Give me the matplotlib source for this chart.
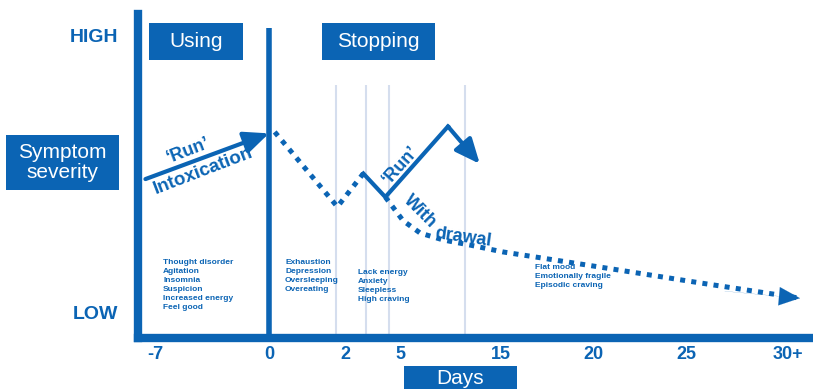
import numpy as np
import matplotlib
matplotlib.use('Agg')
import matplotlib.pyplot as plt
from matplotlib import transforms
from matplotlib.patches import Rectangle, FancyArrowPatch

# x axis: days (non-linear spacing), y axis: severity 0 (LOW) .. 10 (HIGH)
day_ticks = [-7, 0, 2, 5, 15, 20, 25, 30]
day_labels = ['-7', '0', '2', '5', '15', '20', '25', '30+']
level_ticks = [0, 10]
level_labels = ['LOW', 'HIGH']

stop_day = 0
marker_days = [1.75, 3.15, 4.4, 11.45]

# curves (day, severity)
intox_days = [-7.6, 0.0]
intox_sev = [4.8, 6.45]
crash_days = [0.15, 1.8, 3.0]
crash_sev = [6.5, 3.8, 5.0]
run_days = [3.0, 4.2, 9.75, 12.9]
run_sev = [5.0, 4.15, 6.7, 5.35]
withdrawal_days = [4.2, 4.6, 5.3, 7.0, 9.3, 11.9, 15.1, 20.4, 25.7, 30.6]
withdrawal_sev = [4.15, 3.8, 3.3, 2.85, 2.6, 2.42, 2.17, 1.62, 1.05, 0.5]

using_symptoms = ['Thought disorder', 'Agitation', 'Insomnia', 'Suspicion',
                  'Increased energy', 'Feel good']
crash_symptoms = ['Exhaustion', 'Depression', 'Oversleeping', 'Overeating']
early_symptoms = ['Lack energy', 'Anxiety', 'Sleepless', 'High craving']
late_symptoms = ['Flat mood', 'Emotionally fragile', 'Episodic craving']

BLUE = '#0b64b4'
PALE = '#d5deee'
plt.rcParams['font.family'] = ['Liberation Sans', 'DejaVu Sans']

W, H = 813, 389
fig = plt.figure(figsize=(W / 100, H / 100), dpi=100)
ax = fig.add_axes([137.5 / W, 51.5 / H, 675.5 / W, 323.5 / H])

# piecewise day -> position scale, as on the original drawing
scale_days = [-8.1, -7, 0, 2, 5, 15, 20, 25, 30, 31.25]
scale_pos = [137.5, 155, 269, 345, 400, 501, 593, 686, 788, 813]
fwd = lambda d: np.interp(d, scale_days, scale_pos)
inv = lambda p: np.interp(p, scale_pos, scale_days)
ax.set_xscale('function', functions=(fwd, inv))
ax.set_xlim(scale_days[0], scale_days[-1])
ax.set_ylim(-0.92, 10.76)

for s in ['top', 'right']:
    ax.spines[s].set_visible(False)
for s in ['left', 'bottom']:
    ax.spines[s].set_color(BLUE)
    ax.spines[s].set_linewidth(6)
    ax.spines[s].set_capstyle('projecting')

ax.set_xticks(day_ticks, day_labels)
ax.set_yticks(level_ticks, level_labels)
ax.tick_params(axis='x', length=0, pad=6, labelsize=13, labelcolor=BLUE)
ax.tick_params(axis='y', length=0, pad=14, labelsize=14, labelcolor=BLUE)
for lbl in ax.get_xticklabels() + ax.get_yticklabels():
    lbl.set_fontweight('bold')
ax.xaxis.set_minor_locator(matplotlib.ticker.NullLocator())

ax.vlines(marker_days, -0.92, 8.2, colors=PALE, lw=1.5, zorder=1)
ax.vlines(stop_day, -0.92, 10.25, colors=BLUE, lw=4, zorder=2)


def arrow_head(x0, y0, x1, y1, lw=3):
    ax.add_patch(FancyArrowPatch((x0, y0), (x1, y1),
                                 arrowstyle='-|>,head_length=0.75,head_width=0.33',
                                 mutation_scale=20, color=BLUE, lw=lw,
                                 shrinkA=0, shrinkB=0, zorder=4))


dot = (0, (1, 1.25))
arrow_head(intox_days[0], intox_sev[0], intox_days[1], intox_sev[1])
ax.plot(crash_days, crash_sev, color=BLUE, lw=3.6, ls=dot, zorder=3)
ax.plot(run_days[:-1], run_sev[:-1], color=BLUE, lw=3, zorder=3, solid_joinstyle='miter')
arrow_head(run_days[-2], run_sev[-2], run_days[-1], run_sev[-1])
ax.plot(withdrawal_days, withdrawal_sev, color=BLUE, lw=3.6, ls=dot, zorder=3)
arrow_head(withdrawal_days[-2] + 1.2, withdrawal_sev[-2] - 0.3,
           withdrawal_days[-1], withdrawal_sev[-1], lw=0.1)

# layout helpers in pixel coordinates (top-left origin)
px = transforms.Affine2D().scale(1 / W, -1 / H).translate(0, 1) + fig.transFigure


def box(x0, y0, x1, y1, label):
    fig.add_artist(Rectangle((x0, y0), x1 - x0, y1 - y0, transform=px,
                             facecolor=BLUE, edgecolor='none'))
    fig.text((x0 + x1) / 2, (y0 + y1) / 2, label, transform=px, ha='center',
             va='center', color='white', fontsize=15, linespacing=1.1)


box(149, 23, 243, 60, 'Using')
box(322, 23, 435, 60, 'Stopping')
box(404, 366, 517, 392, 'Days')
box(6, 135, 119, 190, 'Symptom\nseverity')


def label(x, y, s, rot, size=13):
    fig.text(x, y, s, transform=px, ha='center', va='center', rotation=rot,
             rotation_mode='anchor', color=BLUE, fontsize=size, fontweight='bold')


label(188, 151, '\u2018Run\u2019', 21)
label(203, 171, 'Intoxication', 21, 13.5)
label(401, 165, '\u2018Run\u2019', 48)
label(420, 212, 'With', -45)
label(463, 238, 'drawal', -8)

for (x, y), lines in zip([(163, 259), (285, 259), (358, 269), (535, 264)],
                         [using_symptoms, crash_symptoms, early_symptoms, late_symptoms]):
    fig.text(x, y, '\n'.join(lines), transform=px, ha='left', va='top',
             color=BLUE, fontsize=6, fontweight='bold', linespacing=1.4)

fig.savefig('out.png', dpi=100)
